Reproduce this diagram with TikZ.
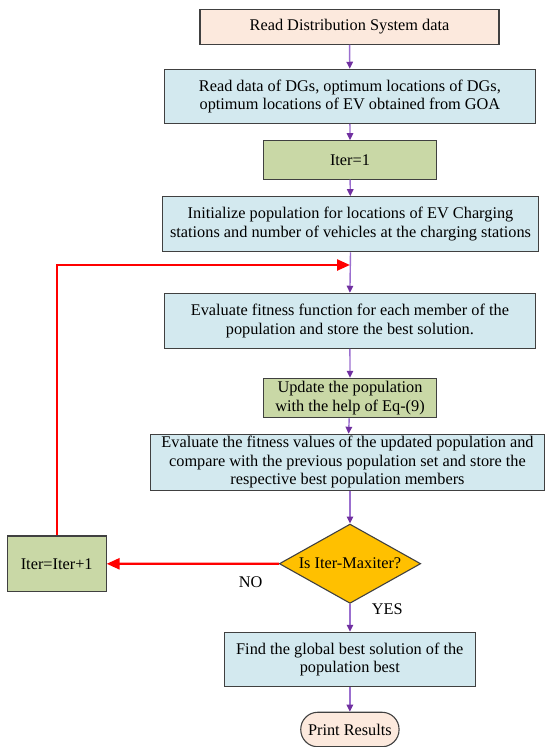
\documentclass[tikz,border=0pt]{standalone}
\usepackage{fontspec}
\setmainfont{Liberation Serif}
\usetikzlibrary{shapes.geometric,arrows.meta}
\definecolor{peach}{HTML}{FCE9DD}
\definecolor{lblue}{HTML}{D3E9EF}
\definecolor{lgreen}{HTML}{C9D8A6}
\definecolor{gold}{HTML}{FFC000}
\definecolor{bord}{HTML}{404040}
\definecolor{purp}{HTML}{9B6FCF}
\definecolor{purpdk}{HTML}{7030A0}
\begin{document}
\begin{tikzpicture}[x=1pt,y=-1pt,
  every node/.style={font=\fontsize{16.3}{18.4}\selectfont, align=center, inner sep=0pt},
  boxb/.style={draw=bord, line width=1.1pt, rectangle},
  bluebox/.style={boxb, fill=lblue},
  greenbox/.style={boxb, fill=lgreen},
  peachbox/.style={boxb, fill=peach},
  flow/.style={draw=purp, line width=1.4pt, -{Triangle[length=7pt,width=6.5pt,fill=purpdk,color=purpdk]}},
  redflow/.style={draw=red, line width=2.4pt, -{Triangle[length=13pt,width=11pt]}}
]
\useasboundingbox (0,0) rectangle (545,747);

\node[peachbox, minimum width=299pt, minimum height=35pt] (b1) at (349.5,26.7) {Read Distribution System data};
\node[bluebox, minimum width=371.7pt, minimum height=54pt] (b2) at (349.9,96.3) {Read data of DGs, optimum locations of DGs,\\optimum locations of EV obtained from GOA};
\node[greenbox, minimum width=173.4pt, minimum height=38.3pt] (b3) at (350,159.9) {Iter=1};
\node[bluebox, minimum width=375.6pt, minimum height=55pt] (b4) at (350.5,224.2) {Initialize population for locations of EV Charging\\stations and number of vehicles at the charging stations};
\node[bluebox, minimum width=371.7pt, minimum height=55pt] (b5) at (349.9,320.8) {Evaluate fitness function for each member of the\\population and store the best solution.};
\node[greenbox, minimum width=173.4pt, minimum height=39.4pt] (b6) at (350,398) {Update the population\\with the help of Eq-(9)};
\node[bluebox, minimum width=394pt, minimum height=55.7pt] (b7) at (347.5,462.2) {Evaluate the fitness values of the updated population and\\compare with the previous population set and store the\\respective best population members};
\node[diamond, draw=bord, line width=1.1pt, fill=gold, minimum width=141.4pt, minimum height=79.3pt, aspect=1.78] (d) at (350,563.7) {Is Iter-Maxiter?};
\node[greenbox, minimum width=98.7pt, minimum height=55.7pt] (inc) at (56.7,563.8) {Iter=Iter+1};
\node[bluebox, minimum width=251pt, minimum height=54.4pt] (b9) at (349.8,659.5) {Find the global best solution of the\\population best};
\node[peachbox, rounded corners=17pt, minimum width=98.3pt, minimum height=34.5pt] (pr) at (349.9,729.5) {Print Results};

\node (no) at (250.7,581.7) {NO};
\node (yes) at (387.3,609) {YES};

\coordinate (j) at (350,265);

\draw[flow] (b1) -- (b2);
\draw[flow] (b2) -- (b3);
\draw[flow] (b3) -- (b4);
\draw[flow] (b4.south) -- (b5.north);
\draw[flow] (b5) -- (b6);
\draw[flow] (b6) -- (b7);
\draw[flow] (b7.south -| d.north) -- (d.north);
\draw[flow] (d.south) -- (b9.north -| d.south);
\draw[flow] (b9.south -| pr.north) -- (pr.north);

\draw[redflow] (d.west) -- (inc.east);
\draw[redflow] (inc.north) |- (j);
\end{tikzpicture}
\end{document}
